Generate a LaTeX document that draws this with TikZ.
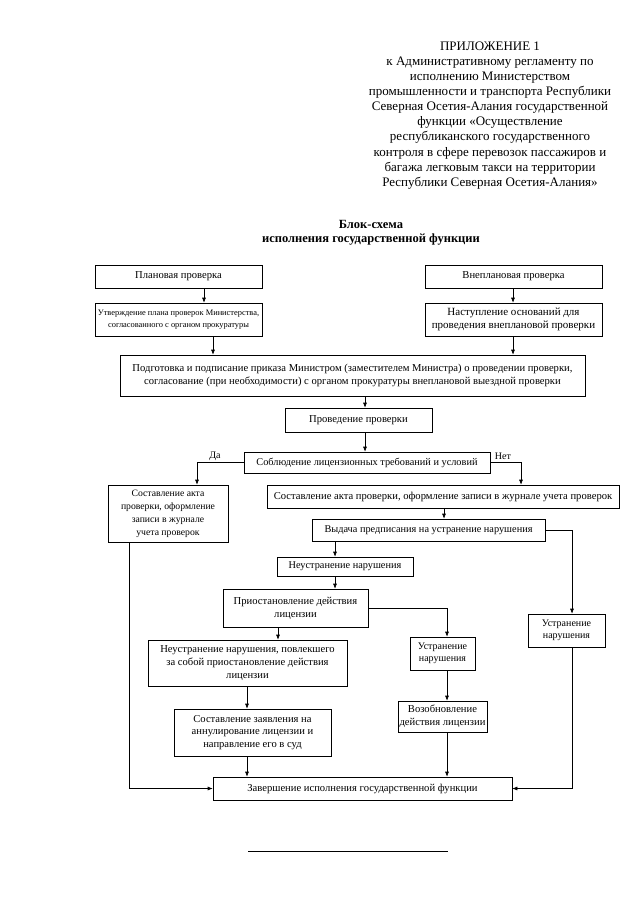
\documentclass[tikz,border=0pt]{standalone}
\usepackage{fontspec}
\setmainfont{Liberation Serif}
\usetikzlibrary{arrows.meta}
\begin{document}
\begin{tikzpicture}[x=1pt,y=-1pt,
  box/.style={draw, line width=0.6pt, inner sep=0pt, align=center, font=\fontsize{10.6}{12.8}\selectfont},
  arr/.style={line width=0.6pt, -{Latex[length=5pt,width=4pt]}},
  lbl/.style={inner sep=0pt, font=\fontsize{10}{12}\selectfont}]
\useasboundingbox (0,0) rectangle (640,905);
\fill[white] (0,0) rectangle (640,905);

% header
\node[anchor=north, align=center, inner sep=0pt, font=\fontsize{13}{15.1}\selectfont] (hdr) at (490,41.5)
 {ПРИЛОЖЕНИЕ 1\\к Административному регламенту по\\исполнению Министерством\\промышленности и транспорта Республики\\Северная Осетия-Алания государственной\\функции «Осуществление\\республиканского государственного\\контроля в сфере перевозок пассажиров и\\багажа легковым такси на территории\\Республики Северная Осетия-Алания»};

\node[anchor=north, align=center, inner sep=0pt, font=\bfseries\fontsize{12.5}{14}\selectfont] (ttl) at (371,220.5)
 {Блок-схема\\исполнения государственной функции};

% boxes
\node[box, minimum width=167pt, minimum height=23pt] (plan) at (178.5,276.5) {Плановая проверка};
\node[box, minimum width=167pt, minimum height=33pt, font=\fontsize{8.4}{11.5}\selectfont] (utv) at (178.5,319.5) {Утверждение плана проверок Министерства,\\согласованного с органом прокуратуры};
\node[box, minimum width=177pt, minimum height=23pt] (vnepl) at (513.5,276.5) {Внеплановая проверка};
\node[box, minimum width=177pt, minimum height=33pt, font=\fontsize{11}{13}\selectfont] (nast) at (513.5,319.5) {Наступление оснований для\\проведения внеплановой проверки};
\node[box, minimum width=465pt, minimum height=41pt] (podg) at (352.5,375.5) {Подготовка и подписание приказа Министром (заместителем Министра) о проведении проверки,\\согласование (при необходимости) с органом прокуратуры внеплановой выездной проверки};
\node[box, minimum width=147pt, minimum height=24pt] (provd) at (358.5,420) {Проведение проверки};
\node[box, minimum width=246pt, minimum height=21pt, font=\fontsize{10.3}{12}\selectfont] (sobl) at (367,462.5) {Соблюдение лицензионных требований и условий};
\node[box, minimum width=120pt, minimum height=57pt, font=\fontsize{9.7}{13}\selectfont] (aktL) at (168,513.5) {Составление акта\\проверки, оформление\\записи в журнале\\учета проверок};
\node[box, minimum width=352pt, minimum height=23pt] (aktR) at (443,496.5) {Составление акта проверки, оформление записи в журнале учета проверок};
\node[box, minimum width=233pt, minimum height=22pt, font=\fontsize{10.3}{12}\selectfont] (vyd) at (428.5,530) {Выдача предписания на устранение нарушения};
\node[box, minimum width=136pt, minimum height=19pt, font=\fontsize{10.3}{12}\selectfont] (neustr) at (345,566.5) {Неустранение нарушения};
\node[box, minimum width=145pt, minimum height=38pt] (prios) at (295.5,608) {Приостановление действия\\лицензии};
\node[box, minimum width=77pt, minimum height=33pt, font=\fontsize{10}{12.5}\selectfont] (ustrR) at (566.5,630.5) {Устранение\\нарушения};
\node[box, minimum width=65pt, minimum height=33pt, font=\fontsize{10}{12.5}\selectfont] (ustrM) at (442.5,653.5) {Устранение\\нарушения};
\node[box, minimum width=199pt, minimum height=46pt] (neustrB) at (247.5,663) {Неустранение нарушения, повлекшего\\за собой приостановление действия\\лицензии};
\node[box, minimum width=157pt, minimum height=47pt] (zayav) at (252.5,732.5) {Составление заявления на\\аннулирование лицензии и\\направление его в суд};
\node[box, minimum width=89pt, minimum height=31pt] (vozob) at (442.5,716.5) {Возобновление\\действия лицензии};
\node[box, minimum width=299pt, minimum height=23pt] (zav) at (362.5,788.5) {Завершение исполнения государственной функции};

% connectors
\draw[arr] (plan.south -| 204,0) -- (utv.north -| 204,0);
\draw[arr] (vnepl.south -| 513,0) -- (nast.north -| 513,0);
\draw[arr] (utv.south -| 213,0) -- (podg.north -| 213,0);
\draw[arr] (nast.south -| 513,0) -- (podg.north -| 513,0);
\draw[arr] (podg.south -| 365,0) -- (provd.north -| 365,0);
\draw[arr] (provd.south -| 365,0) -- (sobl.north -| 365,0);
\draw[arr] (sobl.west) -| (aktL.north -| 197,0);
\node[lbl] (da) at (215,456) {Да};
\draw[arr] (sobl.east) -| (aktR.north -| 521,0);
\node[lbl] (net) at (503,456) {Нет};
\draw[arr] (aktR.south -| 444,0) -- (vyd.north -| 444,0);
\draw[arr] (vyd.south -| 335,0) -- (neustr.north -| 335,0);
\draw[arr] (vyd.east) -| (ustrR.north -| 572,0);
\draw[arr] (neustr.south -| 335,0) -- (prios.north -| 335,0);
\draw[arr] (prios.east) -| (ustrM.north -| 447,0);
\draw[arr] (prios.south -| 278,0) -- (neustrB.north -| 278,0);
\draw[arr] (neustrB.south -| 247,0) -- (zayav.north -| 247,0);
\draw[arr] (ustrM.south -| 447,0) -- (vozob.north -| 447,0);
\draw[arr] (zayav.south -| 247,0) -- (zav.north -| 247,0);
\draw[arr] (vozob.south -| 447,0) -- (zav.north -| 447,0);
\draw[arr] (aktL.south -| 129,0) |- (zav.west);
\draw[arr] (ustrR.south -| 572,0) |- (zav.east);

% footnote rule
\draw[line width=0.9pt] (248,851) -- (448,851);
\end{tikzpicture}
\end{document}
